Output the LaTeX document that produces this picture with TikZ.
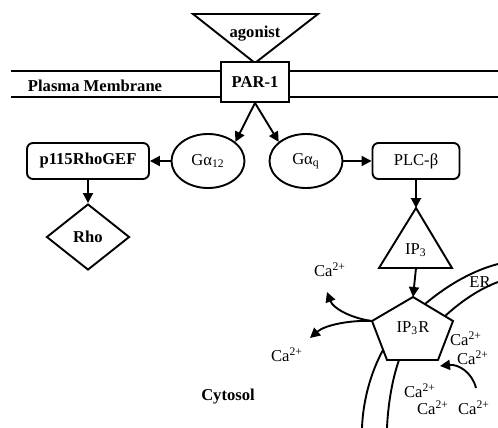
\documentclass[tikz,border=0pt]{standalone}
\usepackage{fontspec}
\setmainfont{Liberation Serif}
\usetikzlibrary{arrows.meta, shapes.geometric, positioning}

\begin{document}
\begin{tikzpicture}[x=0.5pt, y=-0.5pt, line width=0.95pt,
    >={Triangle[length=5pt,width=5pt]},
    every node/.style={font=\fontsize{8.3}{10}\selectfont},
    bold/.style={font=\fontsize{8.3}{10}\selectfont\bfseries},
    receptor/.style={draw, rectangle, fill=white, minimum width=34pt, minimum height=20pt, bold},
    enzyme/.style={draw, rectangle, rounded corners=3pt, minimum height=18pt, inner sep=2pt},
    gprot/.style={draw, ellipse, minimum width=36.5pt, minimum height=27pt, inner sep=0pt},
    ion/.style={inner sep=0pt}]
   \useasboundingbox (0,0) rectangle (498,428);

   % membrane
   \draw (11,71) -- (498,71);
   \draw (11,97) -- (498,97);
   \node[bold, anchor=west, inner sep=0pt] (pm) at (27,86) {Plasma Membrane};

   % agonist
   \coordinate (agL) at (193,14);
   \coordinate (agR) at (318,14);
   \coordinate (agT) at (255,63);
   \draw (agL) -- (agR) -- (agT) -- cycle;
   \node[bold] (ago) at (255,34) {agonist};
   \node[receptor] (par) at (255,82) {PAR-1};

   % G proteins and effectors
   \node[gprot] (ga12) at (208,161) {Gα\textsubscript{12}};
   \node[gprot] (gaq) at (306,161) {Gα\textsubscript{q}};
   \node[enzyme, minimum width=61pt, bold] (gef) at (88,161) {p115RhoGEF};
   \node[draw, diamond, minimum width=41.5pt, minimum height=33pt, inner sep=0pt, bold] (rho) at (88,237) {Rho};
   \node[enzyme, minimum width=43.5pt] (plc) at (416,161) {PLC-β};

   % IP3
   \coordinate (ip3top) at (416,208);
   \coordinate (ip3bot) at (416,268);
   \draw (ip3top) -- (452,268) -- (379,268) -- cycle;
   \node (ip3) at (416,250) {IP\textsubscript{3}};

   % IP3 receptor
   \coordinate (pa) at (413,297);
   \coordinate (pb) at (453,321);
   \coordinate (pc) at (438,360);
   \coordinate (pd) at (387,360);
   \coordinate (pe) at (372,321);
   \draw (pa) -- (pb) -- (pc) -- (pd) -- (pe) -- cycle;
   \node (ip3r) at (413,328) {IP\textsubscript{3}R};

   % ER membrane
   \draw (425,304) .. controls (450,283) and (475,270) .. (498,264);
   \draw (445,316) .. controls (465,298) and (482,288) .. (498,282);
   \draw (383,350) .. controls (371,372) and (363,400) .. (362,428);
   \draw (399,360) .. controls (392,380) and (388,405) .. (387,428);
   \node (er) at (480,282) {ER};

   \path[->]
    (par.south) edge (ga12.35)
    (par.south) edge (gaq.145)
    (ga12) edge (gef)
    (gef) edge (rho)
    (gaq) edge (plc)
    (plc) edge (ip3top)
    (ip3bot) edge (pa)
    ;

   % calcium
   \node[ion] (ca1) at (330,270) {Ca\textsuperscript{2+}};
   \node[ion] (ca2) at (287,355) {Ca\textsuperscript{2+}};
   \node[ion] (ca3) at (466,339) {Ca\textsuperscript{2+}};
   \node[ion] (ca4) at (473,358) {Ca\textsuperscript{2+}};
   \node[ion] (ca5) at (420,391) {Ca\textsuperscript{2+}};
   \node[ion] (ca6) at (433,408) {Ca\textsuperscript{2+}};
   \node[ion] (ca7) at (474,408) {Ca\textsuperscript{2+}};
   \coordinate (out1) at (327,292);
   \coordinate (out2) at (310,338);
   \coordinate (in1) at (476,388);
   \coordinate (in2) at (440,366);
   \draw[->] (pe) .. controls (350,318) and (333,308) .. (out1);
   \draw[->] (pe) .. controls (350,320) and (325,325) .. (out2);
   \draw[->] (in1) .. controls (472,372) and (458,364) .. (in2);

   \node[bold] (cyt) at (228,397) {Cytosol};
\end{tikzpicture}
\end{document}
